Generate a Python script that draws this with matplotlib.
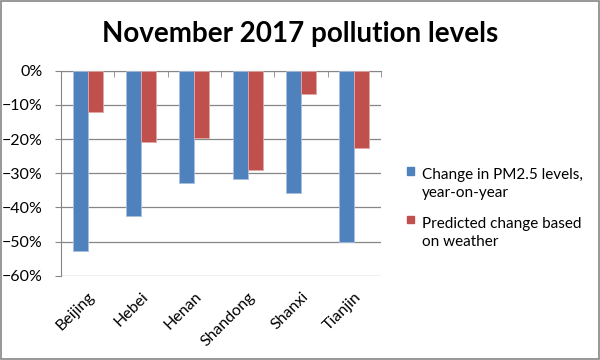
import numpy as np
import matplotlib.pyplot as plt
from matplotlib.patches import Rectangle
from matplotlib.ticker import PercentFormatter

plt.rcParams['font.family'] = ['Lato', 'DejaVu Sans']

## data (% change)
provinces = ['Beijing', 'Hebei', 'Henan', 'Shandong', 'Shanxi', 'Tianjin']
pm25_change = [-52.7, -42.5, -33.0, -31.8, -35.9, -50.0]
weather_change = [-12.1, -21.0, -19.8, -29.0, -6.7, -22.5]
series_names = ['Change in PM2.5 levels,\nyear-on-year',
                'Predicted change based\non weather']
colors = ['#4F81BD', '#C0504D']
grey = '#868686'

fig = plt.figure(figsize=(6, 3.6), dpi=100)
ax = fig.add_axes([0.1017, 0.2342, 0.5333, 0.5694])

x = np.arange(len(provinces))
w = 0.28
ax.bar(x - w / 2, pm25_change, w, color=colors[0], edgecolor='#A7C0DE', linewidth=0.6, zorder=3)
ax.bar(x + w / 2, weather_change, w, color=colors[1], edgecolor='#DFA9A8', linewidth=0.6, zorder=3)

ax.set_xlim(-0.5, len(provinces) - 0.5)
ax.set_ylim(-60, 0)
ax.set_yticks(np.arange(-60, 1, 10))
ax.yaxis.set_major_formatter(PercentFormatter(decimals=0))
ax.grid(axis='y', color=grey, linewidth=0.9, zorder=0)

# category axis sits at 0 (top), labels at the bottom
ax.set_xticks(x)
ax.set_xticklabels(provinces, rotation=45, ha='right', rotation_mode='anchor')
ax.set_xticks(np.arange(-0.5, len(provinces), 1), minor=True)
ax.tick_params(axis='x', which='major', length=0, labelsize=11.5, pad=10)
ax.tick_params(axis='x', which='minor', top=True, bottom=False, direction='in',
               length=4, color=grey)
ax.tick_params(axis='y', labelsize=11.5, length=4, color=grey, pad=9)

for s in ['right', 'bottom']:
    ax.spines[s].set_visible(False)
ax.spines['left'].set_color(grey)
ax.spines['top'].set_color(grey)

fig.text(0.5, 0.905, 'November 2017 pollution levels', ha='center', va='center',
         fontsize=20, fontweight='bold')

# legend
leg_y = [0.527, 0.392]
for name, c, y in zip(series_names, colors, leg_y):
    fig.patches.append(Rectangle((0.678, y - 0.012), 0.0125, 0.021,
                                 transform=fig.transFigure, color=c))
    fig.text(0.703, y + 0.006, name, ha='left', va='top', fontsize=11,
             linespacing=1.35, transform=fig.transFigure)

# outer chart border
fig.patches.append(Rectangle((0.001, 0.002), 0.997, 0.995, transform=fig.transFigure,
                             fill=False, edgecolor=grey, linewidth=1.2))

fig.savefig('out.png', dpi=100)
